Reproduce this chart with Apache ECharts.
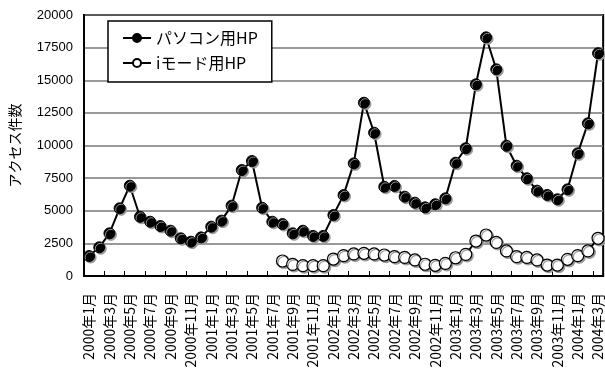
<!DOCTYPE html>
<html><head><meta charset="utf-8">
<script src="https://cdn.jsdelivr.net/npm/echarts@6/dist/echarts.min.js"></script>
<style>html,body{margin:0;padding:0;background:#fff}#c{width:605px;height:376px}</style>
</head><body><div id="c"></div>
<script>
var months = [];
for (var y = 2000; y <= 2004; y++) { for (var m = 1; m <= 12; m++) { if (y === 2004 && m > 3) break; months.push(y + '年' + m + '月'); } }
var pcValues = [1530, 2200, 3270, 5190, 6920, 4540, 4160, 3830, 3470, 2890, 2630, 2960, 3780, 4240, 5390, 8120, 8810,
  5230, 4160, 3980, 3270, 3470, 3070, 3070, 4670, 6200, 8630, 13280, 10980, 6840, 6900, 6080, 5620, 5260, 5500, 5950,
  8680, 9790, 14690, 18290, 15840, 9980, 8450, 7490, 6540, 6210, 5880, 6640, 9400, 11700, 17070];
var imodeValues = [null, null, null, null, null, null, null, null, null, null, null, null, null, null, null, null, null, null, null,
  1150, 890, 790, 790, 790, 1300, 1560, 1690, 1740, 1690, 1610, 1480, 1430, 1230, 900, 820, 970,
  1400, 1660, 2680, 3140, 2580, 1920, 1480, 1430, 1230, 840, 840, 1280, 1560, 1920, 2890];
var seriesNames = ['パソコン用HP', 'iモード用HP'];
var yAxisName = 'アクセス件数';

var FONT = '"Liberation Sans", "Noto Sans CJK JP", sans-serif';
var chart = echarts.init(document.getElementById('c'));
chart.setOption({
  animation: false,
  backgroundColor: '#fff',
  textStyle: { fontFamily: FONT },
  grid: { left: 82, top: 15, width: 525, height: 261, show: true, borderColor: '#000', borderWidth: 2, backgroundColor: 'transparent' },
  legend: {
    orient: 'vertical', left: 108, top: 21,
    padding: [9, 14, 11, 14], itemGap: 9,
    itemWidth: 28, itemHeight: 10,
    backgroundColor: '#fff', borderColor: '#000', borderWidth: 1.5,
    textStyle: { fontSize: 16, color: '#000', width: 112, fontFamily: '"Noto Sans CJK JP", sans-serif' },
    data: seriesNames
  },
  xAxis: {
    type: 'category', data: months, boundaryGap: true,
    axisLine: { lineStyle: { color: '#000', width: 2 } },
    axisTick: { show: true, inside: true, interval: 1, length: 5, lineStyle: { color: '#000', width: 1 } },
    axisLabel: { interval: 1, rotate: 90, margin: 17, fontSize: 14, color: '#000', fontFamily: '"Noto Sans CJK JP", sans-serif' },
    splitLine: { show: false }
  },
  yAxis: {
    type: 'value', min: 0, max: 20000, interval: 2500,
    name: yAxisName, nameLocation: 'middle', nameGap: 62, nameRotate: 90,
    nameTextStyle: { fontSize: 14, color: '#000', fontFamily: '"Noto Sans CJK JP", sans-serif' },
    axisLine: { show: true, lineStyle: { color: '#000', width: 2 } },
    axisTick: { show: false },
    axisLabel: { fontSize: 13, color: '#000', margin: 11, formatter: function (v) { return String(v); } },
    splitLine: { lineStyle: { color: '#777', width: 1.5 } }
  },
  series: [
    {
      name: seriesNames[0], type: 'line', data: pcValues,
      symbol: 'circle', symbolSize: 11, showAllSymbol: true,
      lineStyle: { color: '#000', width: 2 },
      itemStyle: { color: '#000', borderColor: '#000', borderWidth: 1, shadowColor: '#999', shadowOffsetX: 1.5, shadowOffsetY: 1.5, shadowBlur: 0 },
      z: 3
    },
    {
      name: seriesNames[1], type: 'line', data: imodeValues,
      symbol: 'circle', symbolSize: 12, showAllSymbol: true,
      lineStyle: { color: '#000', width: 2 },
      itemStyle: { color: '#fff', borderColor: '#000', borderWidth: 1.2, shadowColor: '#999', shadowOffsetX: 1.5, shadowOffsetY: 1.5, shadowBlur: 0 },
      z: 2
    }
  ]
});
</script></body></html>
